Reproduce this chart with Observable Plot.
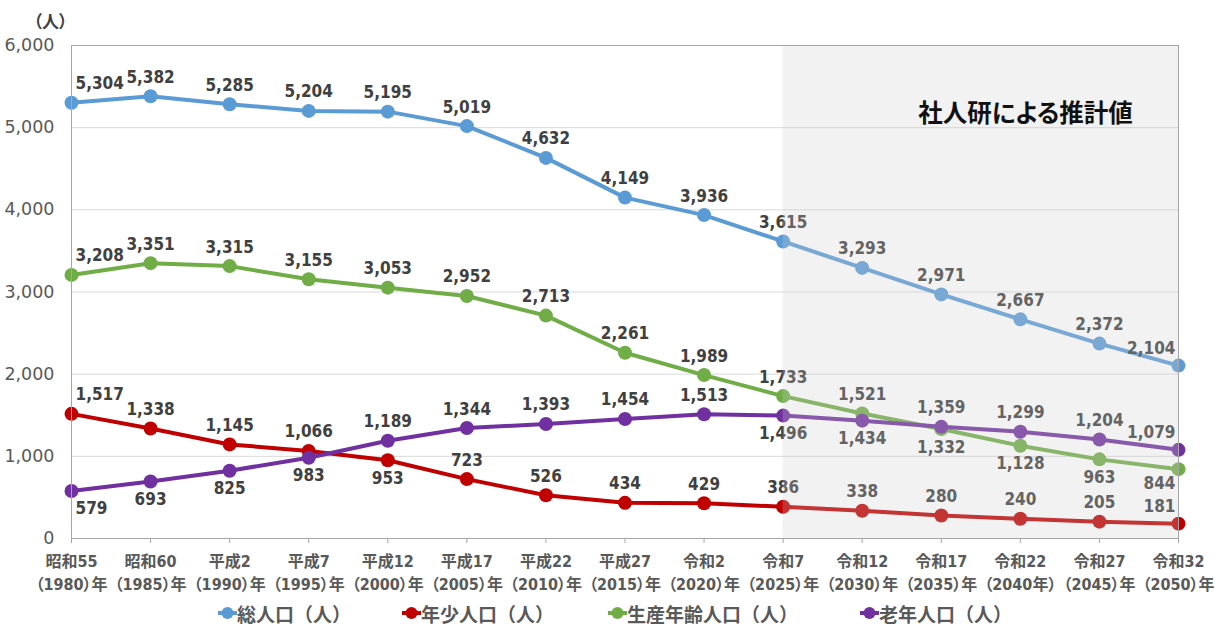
<!DOCTYPE html>
<html>
<head>
<meta charset="utf-8">
<script src="https://cdn.jsdelivr.net/npm/d3@7"></script>
<script src="https://cdn.jsdelivr.net/npm/@observablehq/plot@0.6"></script>
<style>
  body { margin: 0; background: #fff; }
  #chart { position: relative; width: 1215px; height: 626px; }
  #chart svg text { font-feature-settings: "palt"; }
  #legend { position: relative; height: 26px; font-family: "Noto Sans CJK JP", sans-serif; font-weight: bold; font-size: 19px; color: #595959; }
  .item { position: absolute; top: 0; display: flex; align-items: center; height: 26px; white-space: nowrap; }
</style>
</head>
<body>
<div id="chart"></div>
<script>
const categories = ["昭和55","昭和60","平成2","平成7","平成12","平成17","平成22","平成27","令和2","令和7","令和12","令和17","令和22","令和27","令和32"];
const years = ["（1980）年","（1985）年","（1990）年","（1995）年","（2000）年","（2005）年","（2010）年","（2015）年","（2020）年","（2025）年","（2030）年","（2035）年","（2040年）","（2045）年","（2050）年"];
const total   = [5304,5382,5285,5204,5195,5019,4632,4149,3936,3615,3293,2971,2667,2372,2104];
const youth   = [1517,1338,1145,1066,953,723,526,434,429,386,338,280,240,205,181];
const working = [3208,3351,3315,3155,3053,2952,2713,2261,1989,1733,1521,1332,1128,963,844];
const elderly = [579,693,825,983,1189,1344,1393,1454,1513,1496,1434,1359,1299,1204,1079];
const seriesNames = ["総人口（人）","年少人口（人）","生産年齢人口（人）","老年人口（人）"];
const yTicks = [0,1000,2000,3000,4000,5000,6000];
const projectionStart = "令和7";
const annotation = "社人研による推計値";
const unitLabel = "（人）";

// styling
const colors = ["#5b9bd5","#c00000","#70ad47","#7030a0"];
const belowIdx = {
  "総人口（人）": [],
  "年少人口（人）": [4],
  "生産年齢人口（人）": [11,12,13,14],
  "老年人口（人）": [0,1,2,3,9,10]
};

const seriesValues = [total, youth, working, elderly];
const rows = [];
seriesValues.forEach((vals, s) => {
  vals.forEach((v, i) => rows.push({i, value: v, series: seriesNames[s], below: belowIdx[seriesNames[s]].includes(i)}));
});
const last = categories.length - 1;
const pStart = categories.indexOf(projectionStart);

const labelFont = "'DejaVu Sans Condensed', 'DejaVu Sans', sans-serif";
function labels(pos, below) {
  const anchor = pos === "first" ? "start" : pos === "last" ? "end" : "middle";
  const dx = pos === "first" ? 4 : pos === "last" ? -3 : 0;
  const dy = pos === "last" ? (below ? 14 : -17) : (below ? 18 : -19);
  return Plot.text(rows, {
    filter: d => d.below === below && (pos === "first" ? d.i === 0 : pos === "last" ? d.i === last : d.i > 0 && d.i < last),
    x: "i", y: "value", text: d => d3.format(",")(d.value),
    textAnchor: anchor, dx, dy,
    fontSize: 17, fontWeight: "bold", fill: "#404040", fontFamily: labelFont
  });
}

const chart = Plot.plot({
  width: 1215, height: 600,
  marginTop: 45, marginBottom: 62, marginLeft: 71, marginRight: 37,
  x: {domain: [0, last]},
  y: {domain: [0, 6000]},
  color: {domain: seriesNames, range: colors},
  style: {fontFamily: "'DejaVu Sans Condensed', 'Noto Sans CJK JP', sans-serif", background: "#fff"},
  marks: [
    Plot.gridY(yTicks, {stroke: "#d9d9d9", strokeOpacity: 1}),
    Plot.axisY({ticks: yTicks, tickSize: 0, tickPadding: 17, tickFormat: d3.format(","), fontSize: 17.5, fill: "#595959", label: null, fontFamily: "'DejaVu Sans', sans-serif"}),
    Plot.axisX({ticks: d3.range(categories.length), tickSize: 5, tickPadding: 7, tickFormat: i => categories[i] + "\n" + years[i],
      fontSize: 16, fontWeight: "bold", fill: "#595959", stroke: "#a6a6a6", label: null, lineHeight: 1.45}),
    Plot.line(rows, {x: "i", y: "value", stroke: "series", strokeWidth: 4}),
    Plot.dot(rows, {x: "i", y: "value", fill: "series", r: 7}),
    labels("first", false), labels("mid", false), labels("last", false),
    labels("first", true), labels("mid", true), labels("last", true),
    Plot.rect([{x1: pStart, x2: last}], {x1: "x1", x2: "x2", y1: 0, y2: 6000, fill: "#cdcdcd", fillOpacity: 0.26}),
    Plot.frame({stroke: "#a6a6a6"}),
    Plot.text([annotation], {frameAnchor: "top-right", textAnchor: "middle", lineAnchor: "middle", dx: -153, dy: 69, fontSize: 24.5, fontWeight: "bold", fill: "#111", fontFamily: "'Noto Sans CJK JP', sans-serif"}),
    Plot.text([unitLabel], {frameAnchor: "top-left", textAnchor: "middle", lineAnchor: "middle", dx: -21, dy: -23, fontSize: 17, fontWeight: "bold", fill: "#404040", fontFamily: "'Noto Sans CJK JP', sans-serif"})
  ]
});
document.getElementById("chart").appendChild(chart);

const legend = document.createElement("div");
legend.id = "legend";
const lefts = [218, 402, 608, 860];
seriesNames.forEach((name, k) => {
  const item = document.createElement("div");
  item.className = "item";
  item.style.left = lefts[k] + "px";
  item.innerHTML = `<svg width="19" height="14"><line x1="0" y1="7" x2="19" y2="7" stroke="${colors[k]}" stroke-width="4"/><circle cx="9.5" cy="7" r="6" fill="${colors[k]}"/></svg><span>${name}</span>`;
  legend.appendChild(item);
});
document.getElementById("chart").appendChild(legend);
</script>
</body>
</html>
